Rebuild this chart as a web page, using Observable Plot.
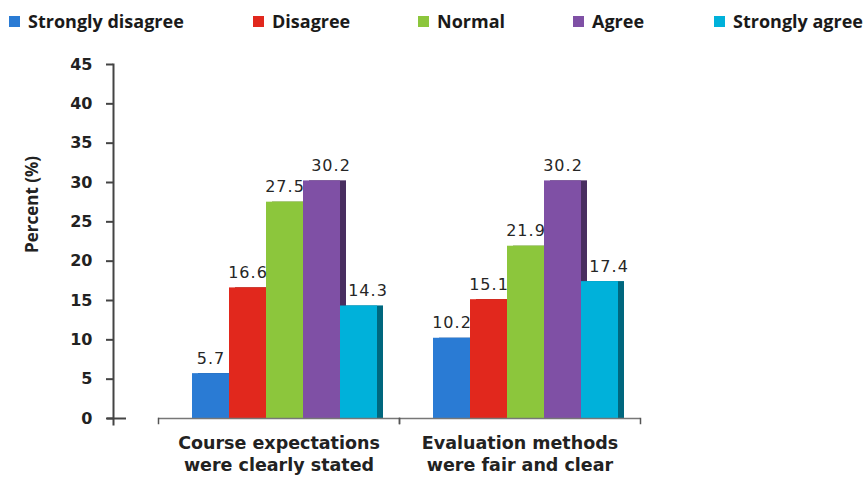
<!DOCTYPE html>
<html>
<head>
<meta charset="utf-8">
<script src="https://cdn.jsdelivr.net/npm/d3@7"></script>
<script src="https://cdn.jsdelivr.net/npm/@observablehq/plot@0.6"></script>
<style>
  html, body { margin: 0; padding: 0; background: #fff; }
  #wrap { width: 864px; height: 477px; position: relative; overflow: hidden; }
  #legend { height: 38px; position: relative;
            font-family: "Open Sans", Lato, sans-serif; font-weight: 700; font-size: 18px; color: #1a1a1a; }
  #legend .item { position: absolute; top: 9px; display: flex; align-items: center; white-space: nowrap; line-height: 24px; }
  #legend .sw { width: 11px; height: 11px; margin-right: 8px; }
  .vlabel text { letter-spacing: 1px; }
</style>
</head>
<body>
<div id="wrap">
  <div id="legend"></div>
  <div id="chart"></div>
</div>
<script>
const groups = ["Course expectations\nwere clearly stated", "Evaluation methods\nwere fair and clear"];
const categories = ["Strongly disagree", "Disagree", "Normal", "Agree", "Strongly agree"];
const courseValues = [5.7, 16.6, 27.5, 30.2, 14.3];
const evaluationValues = [10.2, 15.1, 21.9, 30.2, 17.4];
const yTicks = [0, 5, 10, 15, 20, 25, 30, 35, 40, 45];
const yLabel = "Percent (%)";

// styling / layout
const palette = ["#2a7bd4", "#e1281d", "#8cc63c", "#7f50a5", "#00b1da"];
const legendLeft = [9, 253, 418, 573, 714];

const rows = [courseValues, evaluationValues].flatMap((vals, gi) =>
  vals.map((v, i) => ({group: groups[gi], category: categories[i], value: v})));

// Legend
const legend = document.getElementById("legend");
categories.forEach((c, i) => {
  const item = document.createElement("div");
  item.className = "item";
  item.style.left = legendLeft[i] + "px";
  const sw = document.createElement("span");
  sw.className = "sw";
  sw.style.background = palette[i];
  item.appendChild(sw);
  item.appendChild(document.createTextNode(c));
  legend.appendChild(item);
});

const shifted = d => d.category === categories[4] || (d.category === categories[3] && d.group === groups[0]);
const fmt = d => d.value.toFixed(1);

const chart = Plot.plot({
  width: 864,
  height: 439,
  marginTop: 26,
  marginBottom: 59,
  marginLeft: 157,
  marginRight: 224,
  style: {fontFamily: "DejaVu Sans", background: "#fff", overflow: "visible"},
  fx: {domain: groups, padding: 0},
  x: {domain: categories, paddingInner: 0, paddingOuter: 0.722, align: 0.6, axis: null},
  y: {domain: [0, 45]},
  color: {domain: categories, range: palette},
  marks: [
    // dark right side of each bar
    Plot.barY(rows, {fx: "group", x: "category", y: "value", fill: "category", dx: 6}),
    Plot.barY(rows, {fx: "group", x: "category", y: "value", fill: "black", fillOpacity: 0.42, dx: 6}),
    // front face
    Plot.barY(rows, {fx: "group", x: "category", y: "value", fill: "category"}),
    // value labels
    Plot.text(rows, {filter: d => !shifted(d), fx: "group", x: "category", y: "value", text: fmt,
      dy: -10, lineAnchor: "bottom", fontSize: 16, fill: "#262626", className: "vlabel"}),
    Plot.text(rows, {filter: shifted, fx: "group", x: "category", y: "value", text: fmt,
      dx: 9, dy: -10, lineAnchor: "bottom", fontSize: 16, fill: "#262626", className: "vlabel"}),
    // x baseline and category ticks
    Plot.ruleY([0], {stroke: "#777", strokeWidth: 1.5}),
    Plot.frame({anchor: "left", insetTop: 354, insetBottom: -5, stroke: "#555", strokeWidth: 1.5}),
    Plot.frame({anchor: "right", insetTop: 354, insetBottom: -5, stroke: "#555", strokeWidth: 1.5}),
    // y axis
    Plot.frame({anchor: "left", facetAnchor: "left", dx: -45, insetBottom: -6, stroke: "#444", strokeWidth: 2}),
    Plot.ruleY([0], {facetAnchor: "left", dx: -51, insetRight: 222, stroke: "#444", strokeWidth: 2}),
    Plot.axisY({ticks: yTicks, tickSize: 7, tickPadding: 14, dx: -45, fontSize: 16, fontWeight: "bold",
      fill: "#222", stroke: "#444", strokeWidth: 2, label: null, tickFormat: d => String(d)}),
    Plot.text([yLabel], {text: d => d, frameAnchor: "left", facetAnchor: "left", rotate: -90,
      dx: -126, dy: -37, textAnchor: "middle", fontFamily: "'Open Sans', Lato, sans-serif",
      fontWeight: "bold", fontSize: 17, fill: "#222"}),
    // category labels
    Plot.axisFx({anchor: "bottom", tickSize: 0, tickPadding: 14, fontSize: 17.5, fontWeight: "bold",
      fill: "#222", lineHeight: 1.3, label: null})
  ]
});
document.getElementById("chart").appendChild(chart);
</script>
</body>
</html>
